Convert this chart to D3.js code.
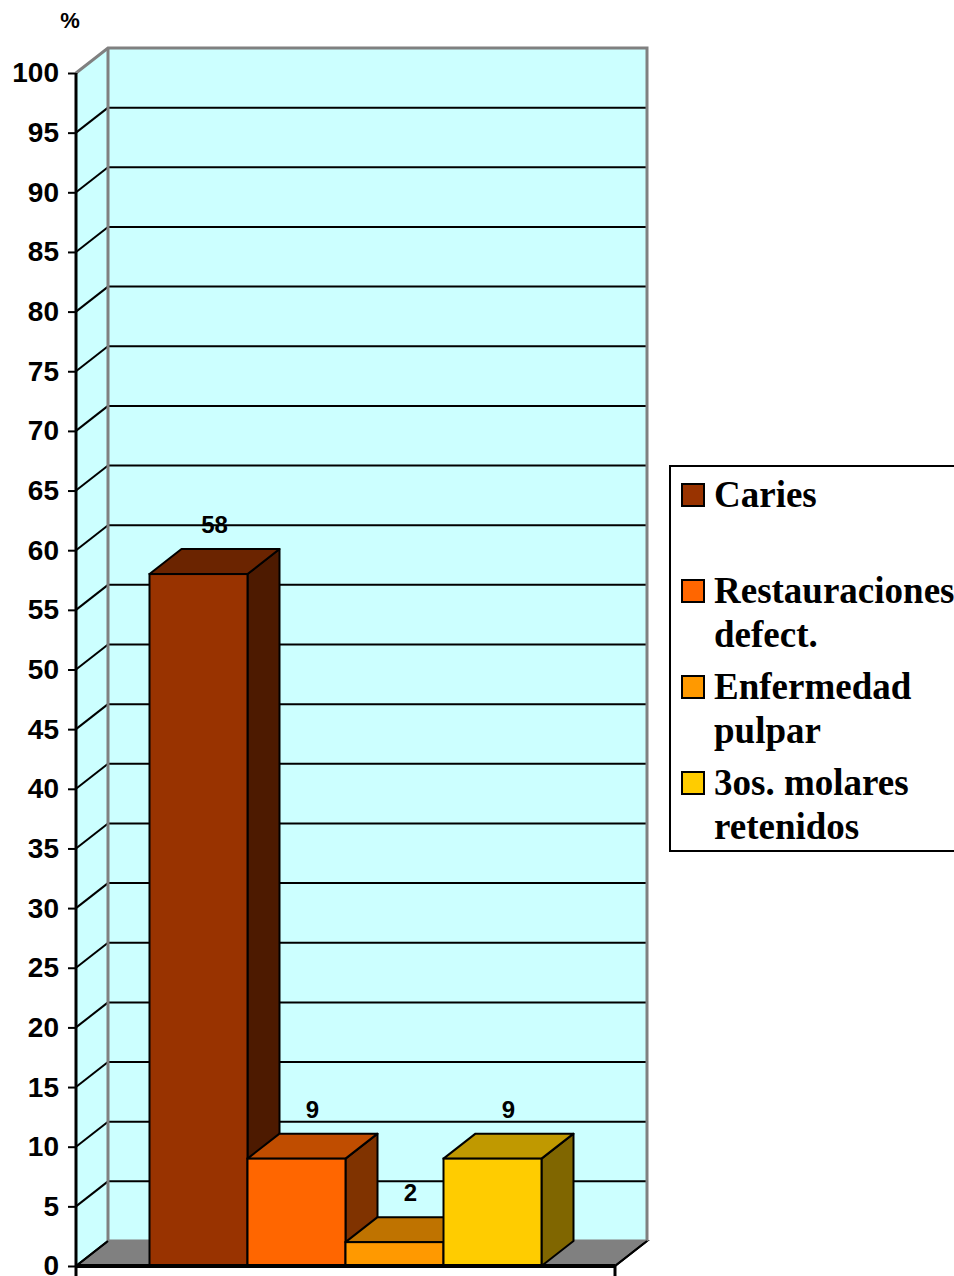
<!DOCTYPE html>
<html lang="es">
<head>
<meta charset="UTF-8">
<title>Caries chart</title>
<script src="https://d3js.org/d3.v7.min.js"></script>
<style>
  body { margin: 0; background: #fff; }
  svg { display: block; }
  .tick text { font-family: "Liberation Sans", Arial, sans-serif; font-weight: bold; font-size: 28px; fill: #000; }
  .lbl { font-family: "Liberation Sans", Arial, sans-serif; font-weight: bold; font-size: 24px; }
  .leg { font-family: "Liberation Serif", "Times New Roman", serif; font-weight: bold; font-size: 37px; }
</style>
</head>
<body>
<svg width="954" height="1276"></svg>
<script>
// data
const series = ["Caries", "Restauraciones defect.", "Enfermedad pulpar", "3os. molares retenidos"];
const values = [58, 9, 2, 9];
const legendLines = [["Caries"], ["Restauraciones", "defect."], ["Enfermedad", "pulpar"], ["3os. molares", "retenidos"]];
const frontColors = ["#993300", "#FF6600", "#FF9900", "#FFCC00"];
const topColors = ["#6B2400", "#C04D00", "#BF7300", "#C09900"];
const sideColors = ["#4D1A00", "#803300", "#804D00", "#806600"];
const yTicks = d3.range(0, 101, 5);

const svg = d3.select("svg");
const x0 = 76, x1 = 615;
const dx = 32, dy = -25;   // 3d depth offset
const y = d3.scaleLinear().domain([0, 100]).range([1266, 73]);
const x = d3.scaleBand().domain(series).range([x0, x1]).paddingInner(0).paddingOuter(0.75);

// back wall
svg.append("rect")
  .attr("x", x0 + dx).attr("y", y(100) + dy)
  .attr("width", x1 - x0).attr("height", y(0) - y(100))
  .attr("fill", "#CCFFFF");
// left side wall
svg.append("path")
  .attr("d", `M${x0},${y(0)}L${x0 + dx},${y(0) + dy}L${x0 + dx},${y(100) + dy}L${x0},${y(100)}Z`)
  .attr("fill", "#CCFFFF");
// floor
svg.append("path")
  .attr("d", `M${x0},${y(0)}L${x0 + dx},${y(0) + dy}L${x1 + dx},${y(0) + dy}L${x1},${y(0)}Z`)
  .attr("fill", "#808080").attr("stroke", "#000").attr("stroke-width", 2);

// grid lines
const grid = svg.append("g");
yTicks.filter(v => v > 0 && v < 100).forEach(v => {
  grid.append("line")
    .attr("x1", x0 + dx).attr("x2", x1 + dx)
    .attr("y1", y(v) + dy).attr("y2", y(v) + dy)
    .attr("stroke", "#000").attr("stroke-width", 2);
  grid.append("line")
    .attr("x1", x0).attr("x2", x0 + dx)
    .attr("y1", y(v)).attr("y2", y(v) + dy)
    .attr("stroke", "#000").attr("stroke-width", 2);
});
// wall borders (gray)
svg.append("path")
  .attr("d", `M${x0},${y(100)}L${x0 + dx},${y(100) + dy}L${x1 + dx},${y(100) + dy}L${x1 + dx},${y(0) + dy}`)
  .attr("fill", "none").attr("stroke", "#808080").attr("stroke-width", 3);
svg.append("path")
  .attr("d", `M${x0 + dx},${y(100) + dy}L${x0 + dx},${y(0) + dy}L${x1 + dx},${y(0) + dy}`)
  .attr("fill", "none").attr("stroke", "#808080").attr("stroke-width", 3);
svg.append("line")
  .attr("x1", x0).attr("x2", x0 + dx).attr("y1", y(0)).attr("y2", y(0) + dy)
  .attr("stroke", "#000").attr("stroke-width", 2);
svg.append("line")
  .attr("x1", x1).attr("x2", x1 + dx).attr("y1", y(0)).attr("y2", y(0) + dy)
  .attr("stroke", "#000").attr("stroke-width", 2);

// bars
const bars = svg.append("g").selectAll("g").data(series).join("g");
bars.each(function (s, i) {
  const g = d3.select(this);
  const bx = x(s), bw = x.bandwidth(), top = y(values[i]), base = y(0);
  g.append("path")
    .attr("d", `M${bx + bw},${base}L${bx + bw + dx},${base + dy}L${bx + bw + dx},${top + dy}L${bx + bw},${top}Z`)
    .attr("fill", sideColors[i]).attr("stroke", "#000").attr("stroke-width", 2).attr("stroke-linejoin", "round");
  g.append("path")
    .attr("d", `M${bx},${top}L${bx + dx},${top + dy}L${bx + bw + dx},${top + dy}L${bx + bw},${top}Z`)
    .attr("fill", topColors[i]).attr("stroke", "#000").attr("stroke-width", 2).attr("stroke-linejoin", "round");
  g.append("rect")
    .attr("x", bx).attr("y", top).attr("width", bw).attr("height", base - top)
    .attr("fill", frontColors[i]).attr("stroke", "#000").attr("stroke-width", 2);
  g.append("text").attr("class", "lbl")
    .attr("x", bx + bw / 2 + dx / 2).attr("y", top + dy - 16)
    .attr("text-anchor", "middle").text(values[i]);
});

// axes
const axis = svg.append("g").attr("transform", `translate(${x0},0)`)
  .call(d3.axisLeft(y).tickValues(yTicks).tickSize(8).tickPadding(9));
axis.select(".domain").remove();
axis.selectAll(".tick line").attr("stroke", "#000").attr("stroke-width", 2);
svg.append("line").attr("x1", x0).attr("x2", x0).attr("y1", y(100)).attr("y2", 1276)
  .attr("stroke", "#000").attr("stroke-width", 3);
svg.append("line").attr("x1", x0).attr("x2", x1).attr("y1", y(0)).attr("y2", y(0))
  .attr("stroke", "#000").attr("stroke-width", 4);
svg.append("line").attr("x1", x1).attr("x2", x1).attr("y1", y(0)).attr("y2", 1276)
  .attr("stroke", "#000").attr("stroke-width", 3);

svg.append("text").attr("x", 70).attr("y", 28).attr("text-anchor", "middle")
  .attr("font-family", "Liberation Sans, Arial, sans-serif").attr("font-weight", "bold")
  .attr("font-size", 22).text("%");

// legend
const leg = svg.append("g");
leg.append("rect").attr("x", 670).attr("y", 466).attr("width", 300).attr("height", 385)
  .attr("fill", "#fff").attr("stroke", "#000").attr("stroke-width", 2);
legendLines.forEach((lines, i) => {
  const cy = 495 + i * 96;
  leg.append("rect").attr("x", 682).attr("y", cy - 11).attr("width", 22).attr("height", 22)
    .attr("fill", frontColors[i]).attr("stroke", "#000").attr("stroke-width", 2);
  lines.forEach((t, j) => {
    leg.append("text").attr("class", "leg").attr("x", 714).attr("y", cy + 12 + j * 44).text(t);
  });
});
</script>
</body>
</html>
